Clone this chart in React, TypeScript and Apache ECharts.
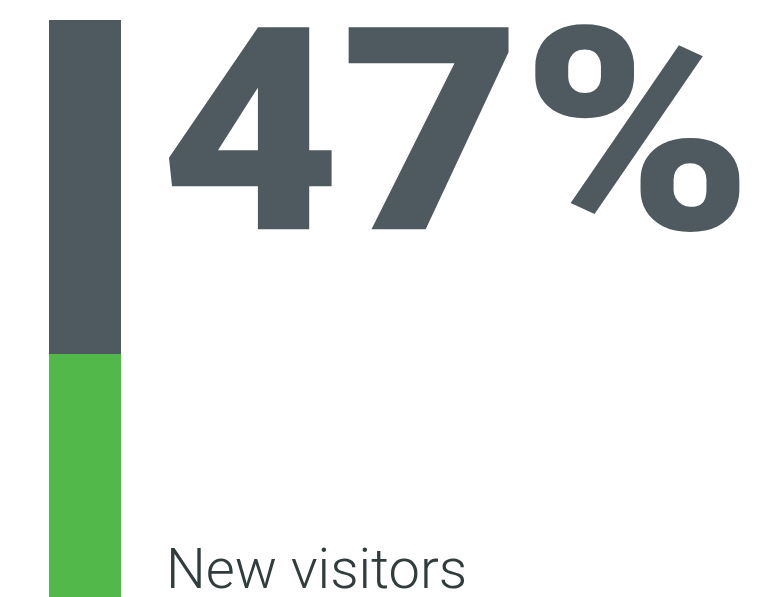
import React, { useEffect, useRef } from "react";
import * as echarts from "echarts";

const categories = ["Visitors"];
const returningVisitors = [53];
const newVisitors = [47];
const headline = "47%";
const label = "New visitors";

export default function App() {
  const ref = useRef<HTMLDivElement>(null);
  useEffect(() => {
    if (!ref.current) return;
    const chart = echarts.init(ref.current, undefined, { renderer: "svg" });
    chart.setOption({
      animation: false,
      grid: {
        left: 49,
        width: 72,
        top: 20,
        height: 630,
        outerBoundsMode: "none",
        containLabel: false,
      },
      xAxis: { type: "category", data: categories, show: false },
      yAxis: { type: "value", min: 0, max: 100, show: false },
      series: [
        {
          type: "bar",
          stack: "v",
          data: newVisitors,
          barWidth: "100%",
          clip: false,
          itemStyle: { color: "#53b84a" },
        },
        {
          type: "bar",
          stack: "v",
          data: returningVisitors,
          barWidth: "100%",
          clip: false,
          itemStyle: { color: "#4f5a60" },
        },
      ],
      graphic: [
        {
          type: "text",
          x: 160,
          y: 17,
          scaleX: 1.098,
          style: {
            text: headline,
            font: "900 284px Roboto",
            lineHeight: 230,
            fill: "#4f5a60",
          },
        },
        {
          type: "text",
          x: 166,
          y: 544,
          style: {
            text: label,
            font: "300 56px Roboto",
            lineHeight: 50,
            fill: "#313c3d",
          },
        },
      ],
    });
    return () => chart.dispose();
  }, []);
  return (
    <div
      ref={ref}
      style={{ position: "fixed", left: 0, top: 0, width: 780, height: 597 }}
    />
  );
}
